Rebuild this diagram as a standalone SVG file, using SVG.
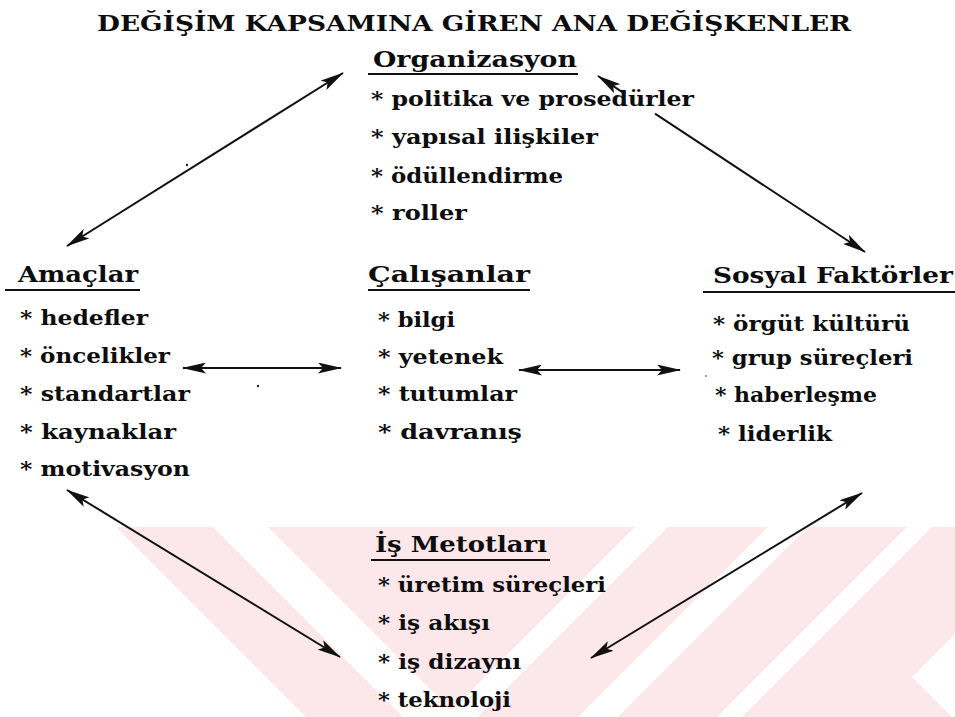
<svg xmlns="http://www.w3.org/2000/svg" width="955" height="717" viewBox="0 0 955 717">
  <style>
    text { font-family: "DejaVu Serif", "Liberation Serif", serif; font-weight: bold; fill: #0d0d0d; }
    .t { font-size: 23px; }
    .h { font-size: 23px; }
    .i { font-size: 20px; }
    .u { stroke: #111; stroke-width: 2; }
    .c { stroke: #111; stroke-width: 2; fill: none; marker-start: url(#ah); marker-end: url(#ah); }
    .wm { fill: #fce7eb; }
    .gap { fill: #fff; }
  </style>
  <defs>
    <marker id="ah" viewBox="0 0 24 11" refX="23" refY="5.5" markerWidth="24" markerHeight="11" markerUnits="userSpaceOnUse" orient="auto-start-reverse">
      <path d="M0,0 L24,5.5 L0,11 L5,5.5 Z" fill="#111"/>
    </marker>
  </defs>

  <rect width="955" height="717" fill="#fff"/>

  <!-- faint striped background band at the foot of the page -->
  <g id="background-stripes">
    <rect class="wm" x="0" y="527" width="955" height="190"/>
    <polygon class="gap" points="0,527 116,527 306,717 0,717"/>
    <polygon class="gap" points="213,527 268,527 458,717 403,717"/>
    <polygon class="gap" points="635,527 668,527 478,717 445,717"/>
    <polygon class="gap" points="768,527 808,527 618,717 578,717"/>
    <polygon class="gap" points="907,527 932,527 742,717 717,717"/>
    <polygon class="gap" points="912,677 955,634 955,717 952,717"/>
  </g>

  <text class="t" x="97" y="31" textLength="754" lengthAdjust="spacingAndGlyphs">DEĞİŞİM KAPSAMINA GİREN ANA DEĞİŞKENLER</text>

  <!-- connectors -->
  <g id="connectors">
    <path class="c" d="M343,73 L67,246"/>
    <path class="c" d="M598,76 L625,93.8 M655,113.6 L865,252"/>
    <path class="c" d="M183,368 L341,368"/>
    <path class="c" d="M519,370 L680,370"/>
    <path class="c" d="M67,490 L340,657"/>
    <path class="c" d="M862,493 L591,658"/>
  </g>

  <g id="organizasyon">
    <text class="h" x="373" y="67" textLength="204" lengthAdjust="spacingAndGlyphs">Organizasyon</text>
    <line class="u" x1="368" y1="74" x2="578" y2="74"/>
    <text class="i" x="371" y="106" textLength="323" lengthAdjust="spacingAndGlyphs">* politika ve prosedürler</text>
    <text class="i" x="371" y="144" textLength="227" lengthAdjust="spacingAndGlyphs">* yapısal ilişkiler</text>
    <text class="i" x="371" y="183" textLength="192" lengthAdjust="spacingAndGlyphs">* ödüllendirme</text>
    <text class="i" x="371" y="220" textLength="96" lengthAdjust="spacingAndGlyphs">* roller</text>
  </g>

  <g id="amaclar">
    <text class="h" x="18" y="282" textLength="120" lengthAdjust="spacingAndGlyphs">Amaçlar</text>
    <line class="u" x1="5" y1="290" x2="140" y2="290"/>
    <text class="i" x="20" y="325" textLength="128" lengthAdjust="spacingAndGlyphs">* hedefler</text>
    <text class="i" x="20" y="363" textLength="150" lengthAdjust="spacingAndGlyphs">* öncelikler</text>
    <text class="i" x="20" y="401" textLength="170" lengthAdjust="spacingAndGlyphs">* standartlar</text>
    <text class="i" x="20" y="439" textLength="156" lengthAdjust="spacingAndGlyphs">* kaynaklar</text>
    <text class="i" x="20" y="476" textLength="170" lengthAdjust="spacingAndGlyphs">* motivasyon</text>
  </g>

  <g id="calisanlar">
    <text class="h" x="368" y="282" textLength="162" lengthAdjust="spacingAndGlyphs">Çalışanlar</text>
    <line class="u" x1="368" y1="290" x2="530" y2="290"/>
    <text class="i" x="378" y="327" textLength="77" lengthAdjust="spacingAndGlyphs">* bilgi</text>
    <text class="i" x="378" y="364" textLength="125" lengthAdjust="spacingAndGlyphs">* yetenek</text>
    <text class="i" x="378" y="401" textLength="139" lengthAdjust="spacingAndGlyphs">* tutumlar</text>
    <text class="i" x="378" y="439" textLength="144" lengthAdjust="spacingAndGlyphs">* davranış</text>
  </g>

  <g id="sosyal-faktorler">
    <text class="h" x="713" y="283" textLength="240" lengthAdjust="spacingAndGlyphs">Sosyal Faktörler</text>
    <line class="u" x1="703" y1="292" x2="955" y2="292"/>
    <text class="i" x="713" y="331" textLength="197" lengthAdjust="spacingAndGlyphs">* örgüt kültürü</text>
    <text class="i" x="712" y="365" textLength="201" lengthAdjust="spacingAndGlyphs">* grup süreçleri</text>
    <text class="i" x="715" y="402" textLength="162" lengthAdjust="spacingAndGlyphs">* haberleşme</text>
    <text class="i" x="718" y="441" textLength="114" lengthAdjust="spacingAndGlyphs">* liderlik</text>
  </g>

  <g id="is-metotlari">
    <text class="h" x="375" y="552" textLength="172" lengthAdjust="spacingAndGlyphs">İş Metotları</text>
    <line class="u" x1="371" y1="560" x2="550" y2="560"/>
    <text class="i" x="378" y="592" textLength="228" lengthAdjust="spacingAndGlyphs">* üretim süreçleri</text>
    <text class="i" x="378" y="630" textLength="112" lengthAdjust="spacingAndGlyphs">* iş akışı</text>
    <text class="i" x="378" y="669" textLength="143" lengthAdjust="spacingAndGlyphs">* iş dizaynı</text>
    <text class="i" x="378" y="707" textLength="133" lengthAdjust="spacingAndGlyphs">* teknoloji</text>
  </g>

  <!-- small specks -->
  <g id="specks" fill="#222">
    <circle cx="187" cy="165" r="1.2"/>
    <circle cx="258" cy="386" r="1.2"/>
    <circle cx="706" cy="376" r="0.8"/>
  </g>
</svg>
